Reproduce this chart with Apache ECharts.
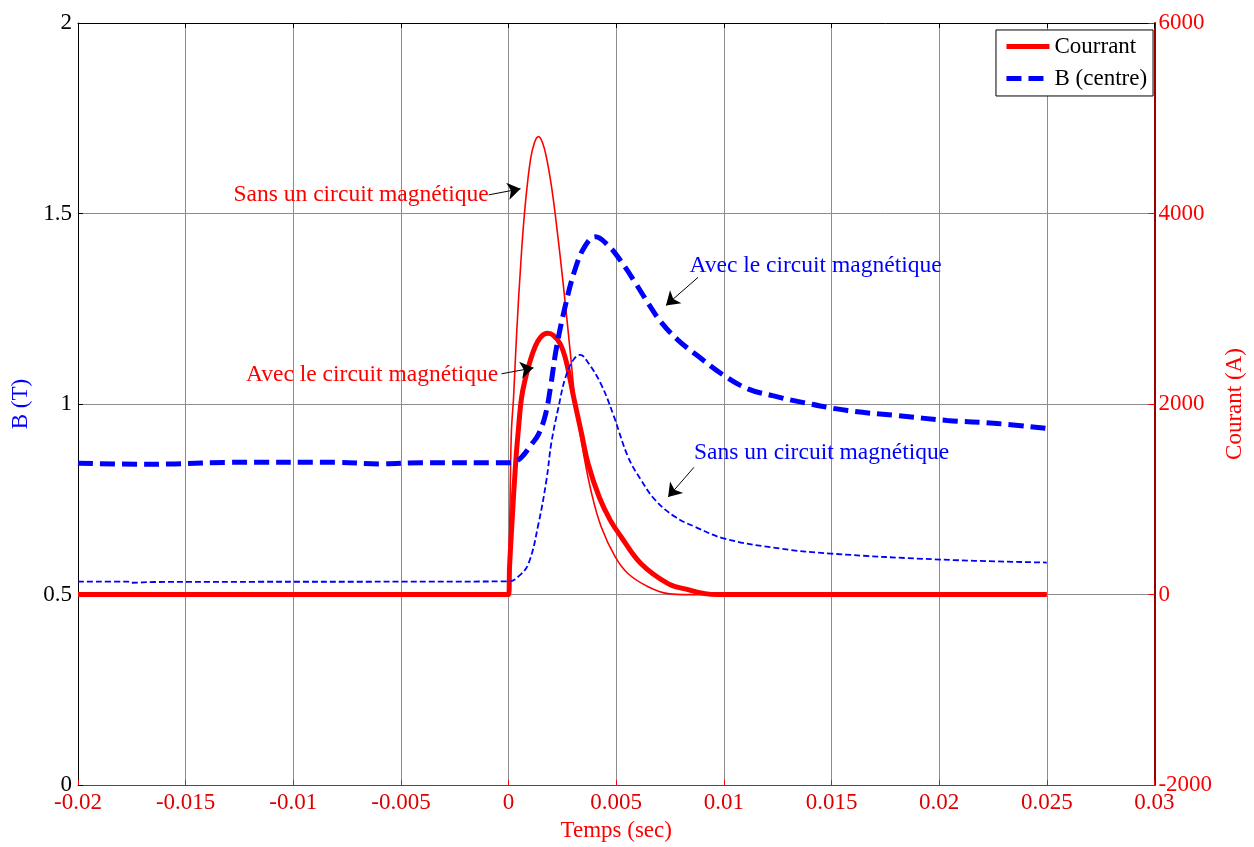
<!DOCTYPE html>
<html><head><meta charset="utf-8">
<script src="https://cdn.jsdelivr.net/npm/echarts@6/dist/echarts.min.js"></script>
<style>html,body{margin:0;padding:0;width:100%;height:100%;overflow:hidden;background:#fff}#c{width:100%;height:100%}</style>
</head><body><div id="c"></div>
<script>
// ---- data ----
var xTicks = [-0.02, -0.015, -0.01, -0.005, 0, 0.005, 0.01, 0.015, 0.02, 0.025, 0.03];
// Current with magnetic circuit (thick red), A
var tCurAvec = [-0.02, -0.01, 0, 0.000046, 0.000139, 0.000324, 0.000463, 0.000602, 0.000787, 0.000972, 0.001204, 0.001481, 0.001806, 0.002083, 0.002407, 0.002685, 0.003009, 0.00338, 0.003704, 0.004213, 0.00472, 0.005231, 0.006157, 0.007407, 0.008333, 0.00912, 0.00972, 0.025];
var curAvec  = [0, 0, 0, 292, 678, 1366, 1752, 2065, 2274, 2430, 2587, 2701, 2743, 2722, 2628, 2441, 2086, 1700, 1366, 1022, 782, 605, 323, 115, 52, 10, 0, 0];
// Current without magnetic circuit (thin red), A
var tCurSans = [-0.02, 0, 0.000046, 0.000093, 0.000139, 0.000231, 0.00037, 0.000602, 0.000787, 0.001019, 0.001204, 0.001389, 0.001574, 0.001759, 0.001991, 0.002222, 0.002546, 0.00287, 0.003102, 0.003472, 0.003843, 0.004306, 0.004954, 0.005556, 0.006481, 0.007407, 0.00833, 0.025];
var curSans  = [0, 0, 605, 1335, 1752, 2065, 2722, 3599, 4120, 4568, 4746, 4808, 4746, 4589, 4287, 3890, 3244, 2535, 2013, 1492, 1074, 709, 396, 219, 83, 10, 0, 0];
// B at centre with magnetic circuit (thick dashed blue), T
var tBAvec = [-0.02, -0.017, -0.0155, -0.013, -0.008, -0.006, -0.004, 0, 0.000231, 0.000602, 0.001065, 0.001389, 0.001713, 0.001944, 0.002222, 0.002639, 0.003102, 0.003565, 0.004028, 0.00463, 0.005231, 0.00588, 0.006481, 0.007083, 0.00787, 0.008796, 0.009954, 0.011111, 0.012269, 0.013426, 0.015741, 0.018056, 0.02037, 0.022685, 0.025];
var bAvec  = [0.845, 0.842, 0.843, 0.847, 0.847, 0.843, 0.846, 0.846, 0.8475, 0.8605, 0.8944, 0.9205, 0.9726, 1.043, 1.147, 1.259, 1.356, 1.416, 1.439, 1.416, 1.374, 1.319, 1.265, 1.215, 1.168, 1.126, 1.077, 1.040, 1.022, 1.007, 0.983, 0.970, 0.957, 0.949, 0.936];
// B at centre without magnetic circuit (thin dashed blue), T
var tBSans = [-0.02, -0.0177, -0.0175, -0.0165, 0, 0.000463, 0.000926, 0.001389, 0.001759, 0.001991, 0.002315, 0.002639, 0.003009, 0.003333, 0.003704, 0.004306, 0.004861, 0.005556, 0.006157, 0.006806, 0.007731, 0.008657, 0.010046, 0.012639, 0.014954, 0.020046, 0.025];
var bSans  = [0.534, 0.534, 0.531, 0.533, 0.5346, 0.5476, 0.5815, 0.6858, 0.8005, 0.8996, 0.9909, 1.0691, 1.116, 1.129, 1.108, 1.0508, 0.9726, 0.8605, 0.8005, 0.7484, 0.704, 0.678, 0.6467, 0.6206, 0.6076, 0.5919, 0.5841];
// annotations: [t, B] for text centres and arrows (in B-axis data units)
var annTexts = [
  {text: 'Sans un circuit magnétique', pos: [-0.00685, 1.549], color: '#ff0000'},
  {text: 'Avec le circuit magnétique', pos: [-0.00634, 1.077], color: '#ff0000'},
  {text: 'Avec le circuit magnétique', pos: [0.01426, 1.364], color: '#0000ff'},
  {text: 'Sans un circuit magnétique', pos: [0.01454, 0.871], color: '#0000ff'}
];
var annArrows = [
  [[-0.000926, 1.549], [0.000556, 1.565]],
  [[-0.000324, 1.0795], [0.001157, 1.095]],
  [[0.0088, 1.3325], [0.00731, 1.259]],
  [[0.00861, 0.834], [0.00741, 0.756]]
];

function zip(a, b) { return a.map(function (v, i) { return [v, b[i]]; }); }
var FONT = '"Liberation Serif", "Times New Roman", serif';
var FS = 23;

var chart = echarts.init(document.getElementById('c'), null, {renderer: 'canvas'});
chart.setOption({
  animation: false,
  backgroundColor: '#ffffff',
  textStyle: {fontFamily: FONT},
  grid: {left: '6.22%', right: '7.66%', top: '2.72%', bottom: '6.73%', containLabel: false},
  legend: {
    orient: 'vertical', right: '8.05%', top: '3.54%',
    data: ['Courrant', 'B (centre)'],
    backgroundColor: '#ffffff', borderColor: '#000000', borderWidth: 1,
    padding: [5, 6, 6, 8], itemGap: 9, itemWidth: 43, itemHeight: 16,
    itemStyle: {opacity: 0},
    lineStyle: {width: 'inherit'},
    textStyle: {fontFamily: FONT, fontSize: FS, color: '#000'},
    selectedMode: false
  },
  xAxis: [{
    type: 'value', position: 'bottom', min: -0.02, max: 0.03, interval: 0.005,
    name: 'Temps (sec)', nameLocation: 'middle', nameGap: 31,
    nameTextStyle: {color: '#ff0000', fontFamily: FONT, fontSize: FS},
    axisLine: {show: true, onZero: false, lineStyle: {color: '#ff0000', width: 1}},
    axisTick: {show: true, inside: true, length: 5, lineStyle: {color: '#ff0000'}},
    axisLabel: {color: '#dd0000', fontFamily: FONT, fontSize: FS, margin: 6,
      formatter: function (v) { return String(parseFloat(v.toFixed(4))); }},
    splitLine: {show: true, lineStyle: {color: '#8c8c8c', width: 1}}
  }, {
    type: 'value', position: 'top', min: -0.02, max: 0.03, interval: 0.005,
    axisLine: {show: true, onZero: false, lineStyle: {color: '#000', width: 1}},
    axisTick: {show: true, inside: true, length: 5, lineStyle: {color: '#000'}},
    axisLabel: {show: false}, splitLine: {show: false}
  }],
  yAxis: [{
    type: 'value', position: 'left', min: 0, max: 2, interval: 0.5,
    name: 'B (T)', nameLocation: 'middle', nameGap: 42,
    nameTextStyle: {color: '#0000ff', fontFamily: FONT, fontSize: FS},
    axisLine: {show: true, onZero: false, lineStyle: {color: '#000', width: 1}},
    axisTick: {show: true, inside: true, length: 5, lineStyle: {color: '#000'}},
    axisLabel: {color: '#000', fontFamily: FONT, fontSize: FS, margin: 6,
      formatter: function (v) { return String(v); }},
    splitLine: {show: true, lineStyle: {color: '#8c8c8c', width: 1}}
  }, {
    type: 'value', position: 'right', min: -2000, max: 6000, interval: 2000,
    name: 'Courant (A)', nameLocation: 'middle', nameGap: 63,
    nameTextStyle: {color: '#ff0000', fontFamily: FONT, fontSize: FS},
    axisLine: {show: true, onZero: false, lineStyle: {color: '#9a0000', width: 2}},
    axisTick: {show: true, inside: true, length: 6, lineStyle: {color: '#ff0000'}},
    axisLabel: {color: '#ff0000', fontFamily: FONT, fontSize: FS, margin: 4,
      formatter: function (v) { return String(v); }},
    splitLine: {show: false}
  }],
  series: [{
    name: 'Courrant', type: 'line', yAxisIndex: 1, xAxisIndex: 0,
    data: zip(tCurAvec, curAvec), showSymbol: false, symbol: 'none',
    smooth: 0.4,
    lineStyle: {color: '#ff0000', width: 5}, itemStyle: {color: '#ff0000'}, z: 3
  }, {
    name: 'B (centre)', type: 'line', yAxisIndex: 0, xAxisIndex: 0,
    data: zip(tBAvec, bAvec), showSymbol: false, symbol: 'none',
    smooth: 0.4,
    lineStyle: {color: '#0000ff', width: 5, type: [15, 7], cap: 'butt'}, itemStyle: {color: '#0000ff'}, z: 4
  }, {
    name: 'Courrant', type: 'line', yAxisIndex: 1, xAxisIndex: 0,
    data: zip(tCurSans, curSans), showSymbol: false, symbol: 'none',
    smooth: 0.4,
    lineStyle: {color: '#ff0000', width: 1.6}, itemStyle: {color: '#ff0000'}, z: 3
  }, {
    name: 'B (centre)', type: 'line', yAxisIndex: 0, xAxisIndex: 0,
    data: zip(tBSans, bSans), showSymbol: false, symbol: 'none',
    smooth: 0.4,
    lineStyle: {color: '#0000ff', width: 1.8, type: [6, 3]}, itemStyle: {color: '#0000ff'}, z: 4,
    markLine: {
      silent: true, animation: false,
      symbol: ['none', 'arrow'], symbolSize: 13,
      lineStyle: {color: '#000', width: 1, type: 'solid'},
      itemStyle: {color: '#000'},
      label: {show: false}, emphasis: {disabled: true},
      data: annArrows.map(function (a) { return [{coord: a[0]}, {coord: a[1]}]; })
    },
    markPoint: {
      silent: true, animation: false, symbol: 'circle', symbolSize: 1,
      itemStyle: {color: 'rgba(0,0,0,0)'},
      data: annTexts.map(function (a) {
        return {coord: a.pos, value: 0,
          label: {show: true, position: 'inside', formatter: a.text, color: a.color,
            fontFamily: FONT, fontSize: 23.5}};
      })
    }
  }]
});
</script></body></html>
